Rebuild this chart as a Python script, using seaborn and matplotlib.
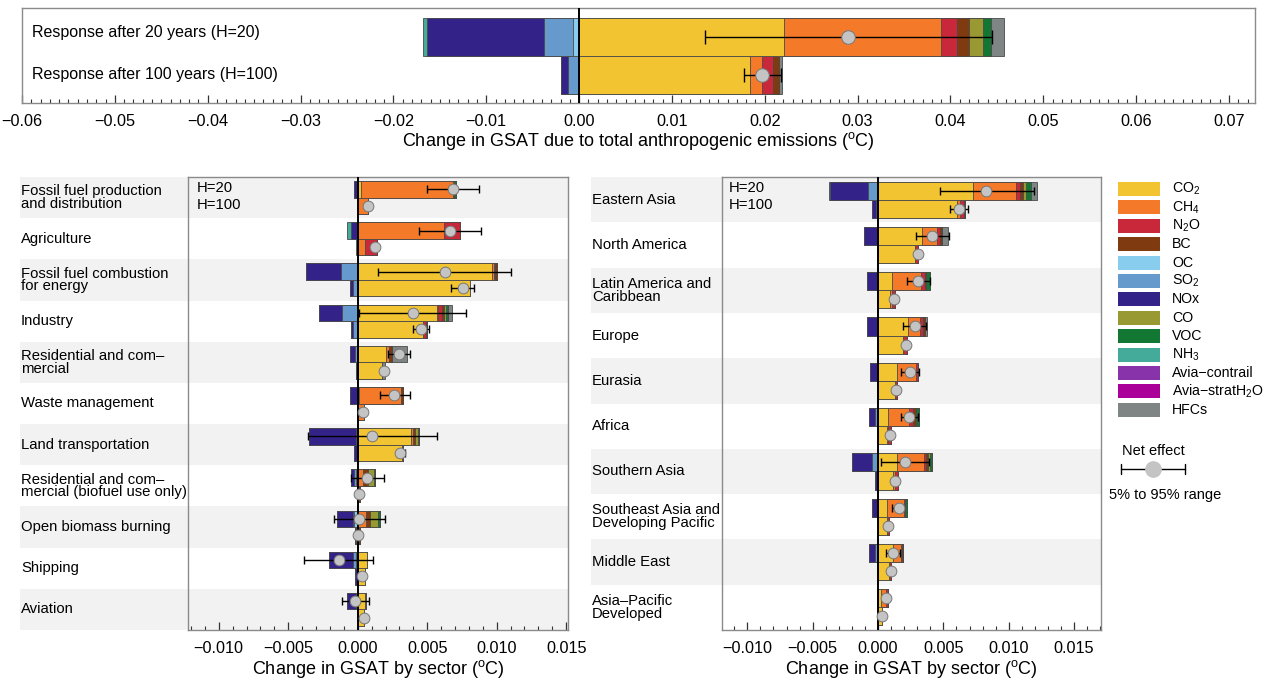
import numpy as np
import pandas as pd
import matplotlib
matplotlib.use("Agg")
import matplotlib.pyplot as plt
import matplotlib.transforms as mtransforms
from matplotlib.patches import Rectangle
from matplotlib.lines import Line2D
from matplotlib.ticker import MultipleLocator, FuncFormatter
import seaborn as sns

# ---------------------------------------------------------------- data
SPECIES = ["CO2", "CH4", "N2O", "BC", "OC", "SO2", "NOx", "CO", "VOC", "NH3",
           "Avia-contrail", "Avia-stratH2O", "HFCs"]
SPECIES_LABELS = ["CO$_2$", "CH$_4$", "N$_2$O", "BC", "OC", "SO$_2$", "NOx", "CO",
                  "VOC", "NH$_3$", "Avia\u2212contrail", "Avia\u2212stratH$_2$O", "HFCs"]
SPECIES_COLORS = ["#F2C431", "#F47A2A", "#C8283A", "#7F3A10", "#88CCEE", "#6699CC",
                  "#332288", "#999933", "#117733", "#44AA99", "#8833AA", "#AA0099",
                  "#7F8585"]
# stacking order away from zero
POS_ORDER = ["CO2", "CH4", "N2O", "BC", "CO", "VOC", "Avia-contrail", "Avia-stratH2O", "HFCs"]
NEG_ORDER = ["OC", "SO2", "NOx", "NH3"]

HORIZONS = ["H=20", "H=100"]

# total anthropogenic emissions (degC)
total_h20 = {"CO2": [0.0221], "CH4": [0.01685], "N2O": [0.0018], "BC": [0.0013],
             "CO": [0.0015], "VOC": [0.0008], "HFCs": [0.00145],
             "OC": [-0.00064], "SO2": [-0.00315], "NOx": [-0.01255], "NH3": [-0.00043]}
total_h100 = {"CO2": [0.01838], "CH4": [0.00136], "N2O": [0.0012], "BC": [0.0006],
              "HFCs": [0.0003], "SO2": [-0.00115], "NOx": [-0.00085]}
total_net_h20, total_lo_h20, total_hi_h20 = [0.0290], [0.01353], [0.04447]
total_net_h100, total_lo_h100, total_hi_h100 = [0.0197], [0.01779], [0.0217]

# sectors
sectors = ["Fossil fuel production\nand distribution", "Agriculture",
           "Fossil fuel combustion\nfor energy", "Industry",
           "Residential and com\u2013\nmercial", "Waste management",
           "Land transportation",
           "Residential and com\u2013\nmercial (biofuel use only)",
           "Open biomass burning", "Shipping", "Aviation"]
sector_h20 = {
    "CO2": [0.00024, 0, 0.00964, 0.00568, 0.00205, 0.0001, 0.00384, 0, 0, 0.00065, 0.00053],
    "CH4": [0.00662, 0.00618, 0.00017, 0.00008, 0.00019, 0.00302, 0.00015, 0.00036, 0.00058, 0, 0],
    "N2O": [0.00005, 0.00121, 0.0001, 0.00029, 0, 0, 0, 0, 0, 0, 0],
    "BC": [0, 0, 0.0001, 0.00014, 0.00022, 0.00017, 0.0001, 0.00039, 0.00027, 0, 0],
    "CO": [0, 0, 0, 0.00014, 0, 0, 0.00024, 0.00039, 0.00058, 0, 0],
    "VOC": [0.00014, 0, 0, 0.00017, 0, 0, 0.0001, 0.00007, 0.00019, 0, 0],
    "Avia-contrail": [0, 0, 0, 0, 0, 0, 0, 0, 0, 0, 0.0001],
    "HFCs": [0, 0, 0, 0.00031, 0.00109, 0, 0, 0, 0, 0, 0],
    "OC": [0, 0, 0, 0, 0, 0, 0, -0.00014, -0.00027, -0.0001, 0],
    "SO2": [0, 0, -0.00118, -0.00116, -0.00017, 0, -0.0001, -0.0001, -0.0001, -0.00022, -0.0001],
    "NOx": [-0.00029, -0.00046, -0.00256, -0.00162, -0.00039, -0.00058, -0.00338, -0.00024,
            -0.00113, -0.00173, -0.0007],
    "NH3": [0, -0.00031, 0, 0, 0, 0, 0, 0, 0, 0, 0],
}
sector_h100 = {
    "CO2": [0.00005, 0, 0.00807, 0.00473, 0.00174, 0, 0.00319, 0, 0, 0.00053, 0.00043],
    "CH4": [0.00072, 0.00053, 0, 0, 0, 0.00043, 0, 0, 0, 0, 0],
    "N2O": [0, 0.00085, 0, 0.00019, 0, 0, 0, 0, 0, 0, 0],
    "BC": [0, 0, 0, 0.0001, 0, 0, 0.0001, 0.0002, 0.00019, 0, 0],
    "HFCs": [0, 0, 0, 0, 0.0002, 0, 0, 0, 0, 0, 0],
    "OC": [0, 0, 0, 0, 0, 0, 0, 0, -0.0001, 0, 0],
    "SO2": [0, 0, -0.00036, -0.00031, 0, 0, 0, 0, 0, 0, 0],
    "NOx": [0, 0, -0.00017, -0.00015, -0.0001, -0.00007, -0.00024, -0.00007, -0.00012, -0.00022, 0],
    "NH3": [0, -0.00014, 0, 0, 0, 0, 0, 0, 0, 0, 0],
}
sector_net_h20 = [0.00686, 0.00662, 0.00626, 0.00396, 0.00295, 0.00263, 0.00106, 0.0007,
                  0.00012, -0.00138, -0.00022]
sector_lo_h20 = [0.00498, 0.0044, 0.00147, 0.0001, 0.00215, 0.00157, -0.00355, -0.0005,
                 -0.00169, -0.0039, -0.00111]
sector_hi_h20 = [0.00874, 0.00884, 0.0110, 0.0078, 0.00379, 0.00374, 0.00568, 0.00188,
                 0.00198, 0.00113, 0.00082]
sector_net_h100 = [0.00077, 0.00126, 0.00754, 0.00454, 0.00186, 0.00036, 0.00302, 0.00012,
                   0.0, 0.00031, 0.00043]
sector_lo_h100 = [np.nan, np.nan, 0.00669, 0.0040, np.nan, np.nan, 0.00282, np.nan, np.nan,
                  np.nan, np.nan]
sector_hi_h100 = [np.nan, np.nan, 0.00836, 0.0051, np.nan, np.nan, 0.0034, np.nan, np.nan,
                  np.nan, np.nan]

# regions
regions = ["Eastern Asia", "North America", "Latin America and\nCaribbean", "Europe",
           "Eurasia", "Africa", "Southern Asia", "Southeast Asia and\nDeveloping Pacific",
           "Middle East", "Asia\u2013Pacific\nDeveloped"]
region_h20 = {
    "CO2": [0.00726, 0.0034, 0.00109, 0.00231, 0.00147, 0.00079, 0.00147, 0.00066, 0.00117, 0.00023],
    "CH4": [0.0033, 0.00112, 0.00223, 0.00089, 0.00147, 0.0016, 0.00203, 0.00132, 0.00056, 0.00036],
    "N2O": [0.0003, 0.0002, 0.00025, 0.00025, 0.00015, 0.00025, 0.0002, 0.0001, 0.0001, 0.00015],
    "BC": [0.0002, 0.0002, 0.00013, 0.00013, 0, 0.00025, 0.00015, 0, 0.0001, 0],
    "CO": [0.00025, 0, 0, 0, 0, 0, 0.0001, 0, 0, 0],
    "VOC": [0.00038, 0, 0.00025, 0, 0, 0.00025, 0.0002, 0.0001, 0, 0],
    "HFCs": [0.00051, 0.00041, 0, 0.00013, 0, 0, 0, 0, 0, 0],
    "SO2": [-0.00074, -0.0001, -0.0001, -0.0001, 0, -0.0002, -0.00046, 0, -0.0002, 0],
    "NOx": [-0.00292, -0.00096, -0.00074, -0.00074, -0.00061, -0.00051, -0.00155, -0.00048,
            -0.00053, -0.00008],
    "NH3": [-0.00013, 0, 0, 0, 0, 0, 0, 0, 0, 0],
}
region_h100 = {
    "CO2": [0.00604, 0.00284, 0.00091, 0.00193, 0.00129, 0.00066, 0.00117, 0.00066, 0.00086, 0.00028],
    "CH4": [0.00025, 0, 0.00015, 0, 0, 0.00013, 0.00013, 0, 0, 0],
    "N2O": [0.00025, 0.0002, 0.00025, 0.00025, 0.00013, 0.00018, 0.00025, 0.00015, 0.0001, 0.00005],
    "BC": [0.00015, 0, 0, 0, 0, 0, 0, 0, 0, 0],
    "SO2": [-0.00015, 0, 0, 0, 0, 0, -0.0001, 0, 0, 0],
    "NOx": [-0.00028, -0.0001, -0.00008, -0.0001, -0.00008, 0, -0.00015, 0, 0, 0],
}
region_net_h20 = [0.00827, 0.00414, 0.00308, 0.00282, 0.00241, 0.00236, 0.00206, 0.00162,
                  0.00117, 0.00058]
region_lo_h20 = [0.00472, 0.00289, 0.00218, 0.00193, 0.00173, 0.00173, 0.00025, 0.00104,
                 0.00061, np.nan]
region_hi_h20 = [0.01195, 0.00543, 0.00396, 0.0037, 0.0031, 0.00305, 0.00391, 0.0018,
                 0.00168, np.nan]
region_net_h100 = [0.00619, 0.00302, 0.00124, 0.00211, 0.00137, 0.00091, 0.00127, 0.00076,
                   0.00096, 0.0003]
region_lo_h100 = [0.00553] + [np.nan] * 9
region_hi_h100 = [0.00685] + [np.nan] * 9

# ---------------------------------------------------------------- style
sns.set_theme(style="white")
FONT = ["Liberation Sans", "DejaVu Sans"]
plt.rcParams["font.family"] = FONT
plt.rcParams["mathtext.fontset"] = "custom"
plt.rcParams["mathtext.rm"] = "Liberation Sans"
plt.rcParams["mathtext.it"] = "Liberation Sans:italic"
plt.rcParams["mathtext.bf"] = "Liberation Sans:bold"
plt.rcParams["axes.unicode_minus"] = True
plt.rcParams["text.color"] = "black"
plt.rcParams["axes.labelcolor"] = "black"
plt.rcParams["xtick.color"] = "black"

COLOR = dict(zip(SPECIES, SPECIES_COLORS))
EDGE = "#4a4a4a"
SPINE = "#8a8a8a"
STRIPE = "#f2f2f2"
DOT = "#c4c4c4"

W, H = 1266, 685
fig = plt.figure(figsize=(W / 100, H / 100), dpi=100)


def fx(x):
    return x / W


def fy(y):
    return 1 - y / H


def draw_stacks(ax, n, h20, h100):
    data = {"H=20": h20, "H=100": h100}
    for group in (POS_ORDER, NEG_ORDER):
        cum = {h: np.zeros(n) for h in HORIZONS}
        layers = []
        for sp in group:
            if sp not in h20 and sp not in h100:
                continue
            for h in HORIZONS:
                cum[h] = cum[h] + np.asarray(data[h].get(sp, np.zeros(n)), dtype=float)
            layers.append((sp, {h: cum[h].copy() for h in HORIZONS}))
        # outermost cumulative bar first, inner ones drawn over it
        for sp, c in reversed(layers):
            df = pd.DataFrame({
                "row": np.tile(np.arange(n), 2),
                "H": np.repeat(HORIZONS, n),
                "value": np.concatenate([c["H=20"], c["H=100"]]),
            })
            sns.barplot(data=df, x="value", y="row", hue="H", hue_order=HORIZONS,
                        order=list(range(n)), orient="h", palette=[COLOR[sp]] * 2,
                        dodge=True, width=0.8, saturation=1, edgecolor=EDGE,
                        linewidth=0.6, errorbar=None, legend=False, ax=ax)


def draw_net(ax, n, net20, lo20, hi20, net100, lo100, hi100, dot_s, cap):
    pos = np.concatenate([np.arange(n) - 0.2, np.arange(n) + 0.2])
    net = np.concatenate([net20, net100])
    lo = np.concatenate([lo20, lo100])
    hi = np.concatenate([hi20, hi100])
    m = ~np.isnan(lo)
    ax.errorbar(net[m], pos[m], xerr=[net[m] - lo[m], hi[m] - net[m]], fmt="none",
                ecolor="black", elinewidth=1.0, capsize=cap, capthick=1.0, zorder=5)
    sns.scatterplot(x=net, y=pos, s=dot_s, color=DOT, edgecolor="#777777",
                    linewidth=0.7, zorder=6, legend=False, ax=ax)


def style_axis(ax, major, minor, fmt, xlabel, labelsize=11.7):
    for sp in ax.spines.values():
        sp.set_color(SPINE)
        sp.set_linewidth(1.0)
    ax.set_yticks([])
    ax.set_ylabel("")
    ax.xaxis.set_major_locator(MultipleLocator(major))
    ax.xaxis.set_minor_locator(MultipleLocator(minor))
    ax.xaxis.set_major_formatter(FuncFormatter(lambda v, p: (fmt % v).replace("-", "\u2212")
                                               if abs(v) > 1e-12 else fmt % 0))
    ax.tick_params(axis="x", which="both", direction="in", bottom=True, top=False,
                   color="#333333", labelsize=labelsize, pad=8, labelcolor="black")
    ax.tick_params(axis="x", which="major", length=6, width=0.9)
    ax.tick_params(axis="x", which="minor", length=3, width=0.8)
    ax.set_xlabel(xlabel, fontsize=13, labelpad=1, color="black")
    ax.axvline(0, color="black", lw=1.4, zorder=4)


# ---------------------------------------------------------------- top panel
ax_top = fig.add_axes([fx(22), fy(103), fx(1255) - fx(22), (103 - 8) / H])
draw_stacks(ax_top, 1, total_h20, total_h100)
draw_net(ax_top, 1, total_net_h20, total_lo_h20, total_hi_h20,
         total_net_h100, total_lo_h100, total_hi_h100, dot_s=95, cap=5)
ax_top.set_xlim(-0.06, 0.0728)
ax_top.set_ylim(0.49, -0.51)
style_axis(ax_top, 0.01, 0.001, "%.2f",
           "Change in GSAT due to total anthropogenic emissions ($^{\\mathrm{o}}$C)")
ax_top.text(fx(32), fy(33), "Response after 20 years (H=20)", transform=fig.transFigure,
            fontsize=11.5, va="center", ha="left")
ax_top.text(fx(32), fy(74), "Response after 100 years (H=100)", transform=fig.transFigure,
            fontsize=11.5, va="center", ha="left")


# ---------------------------------------------------------------- side panels
def side_panel(rect, names, h20, h100, net20, lo20, hi20, net100, lo100, hi100,
               xlim, label_x, hx):
    n = len(names)
    ax = fig.add_axes(rect)
    tr = mtransforms.blended_transform_factory(fig.transFigure, ax.transData)
    right = rect[0] + rect[2]
    for i in range(0, n, 2):
        ax.add_patch(Rectangle((fx(label_x - 1), i - 0.5), right - fx(label_x - 1), 1.0,
                               transform=tr, facecolor=STRIPE, edgecolor="none",
                               zorder=0, clip_on=False))
    draw_stacks(ax, n, h20, h100)
    draw_net(ax, n, net20, lo20, hi20, net100, lo100, hi100, dot_s=60, cap=3)
    ax.set_xlim(*xlim)
    ax.set_ylim(n - 0.5, -0.5)
    style_axis(ax, 0.005, 0.001, "%.3f",
               "Change in GSAT by sector ($^{\\mathrm{o}}$C)")
    for i, name in enumerate(names):
        ax.text(fx(label_x), i, name, transform=tr, fontsize=10.7, va="center",
                ha="left", linespacing=0.88)
    ax.text(fx(hx), fy(188), "H=20", transform=fig.transFigure, fontsize=10.7,
            va="center", ha="left")
    ax.text(fx(hx), fy(205), "H=100", transform=fig.transFigure, fontsize=10.7,
            va="center", ha="left")
    return ax


panel_bottom, panel_h = fy(630), (630 - 177) / H
side_panel([fx(188), panel_bottom, fx(568) - fx(188), panel_h], sectors,
           sector_h20, sector_h100, sector_net_h20, sector_lo_h20, sector_hi_h20,
           sector_net_h100, sector_lo_h100, sector_hi_h100,
           (-0.01221, 0.01513), 21, 197)
side_panel([fx(722), panel_bottom, fx(1101) - fx(722), panel_h], regions,
           region_h20, region_h100, region_net_h20, region_lo_h20, region_hi_h20,
           region_net_h100, region_lo_h100, region_hi_h100,
           (-0.01194, 0.01706), 592, 729)

# ---------------------------------------------------------------- legend
for k, (lab, col) in enumerate(zip(SPECIES_LABELS, SPECIES_COLORS)):
    yc = 189 + 18.4 * k
    fig.patches.append(Rectangle((fx(1118), fy(yc + 7)), fx(1160) - fx(1118), 14 / H,
                                 transform=fig.transFigure, facecolor=col,
                                 edgecolor="none"))
    fig.text(fx(1172), fy(yc), lab, fontsize=10.2, va="center", ha="left")

fig.text(fx(1153), fy(451), "Net effect", fontsize=10.5, va="center", ha="center")
fig.lines.append(Line2D([fx(1121), fx(1185)], [fy(469), fy(469)], color="black", lw=1.0,
                        transform=fig.transFigure))
for xc in (1121, 1185):
    fig.lines.append(Line2D([fx(xc), fx(xc)], [fy(464), fy(474)], color="black", lw=1.0,
                            transform=fig.transFigure))
fig.lines.append(Line2D([fx(1153)], [fy(469)], marker="o", markersize=11, color=DOT,
                        markeredgecolor=DOT, linestyle="none", transform=fig.transFigure))
fig.text(fx(1165), fy(495), "5% to 95% range", fontsize=10.5, va="center", ha="center")

fig.savefig("out.png", dpi=100, facecolor="white")
